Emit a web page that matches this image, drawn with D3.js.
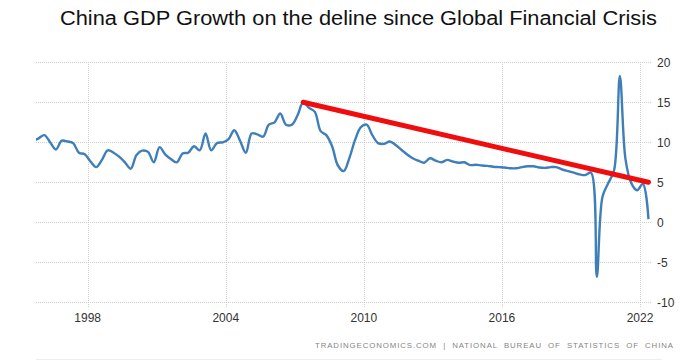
<!DOCTYPE html>
<html>
<head>
<meta charset="utf-8">
<script src="https://cdn.jsdelivr.net/npm/d3@7"></script>
<style>
  body { margin: 0; background: #fff; }
  svg { display: block; font-family: Arial, "Liberation Sans", sans-serif; }
  .grid line { stroke: #cfcfcf; stroke-dasharray: 1,1; }
  .tick-label { fill: #333; font-size: 12px; }
</style>
</head>
<body>
<svg width="697" height="361"></svg>
<script>
// quarterly GDP growth, year on year (%)
const quarters = [
  '1995Q3', '1995Q4',
  '1996Q1', '1996Q2', '1996Q3', '1996Q4',
  '1997Q1', '1997Q2', '1997Q3', '1997Q4',
  '1998Q1', '1998Q2', '1998Q3', '1998Q4',
  '1999Q1', '1999Q2', '1999Q3', '1999Q4',
  '2000Q1', '2000Q2', '2000Q3', '2000Q4',
  '2001Q1', '2001Q2', '2001Q3', '2001Q4',
  '2002Q1', '2002Q2', '2002Q3', '2002Q4',
  '2003Q1', '2003Q2', '2003Q3', '2003Q4',
  '2004Q1', '2004Q2', '2004Q3', '2004Q4',
  '2005Q1', '2005Q2', '2005Q3', '2005Q4',
  '2006Q1', '2006Q2', '2006Q3', '2006Q4',
  '2007Q1', '2007Q2', '2007Q3', '2007Q4',
  '2008Q1', '2008Q2', '2008Q3', '2008Q4',
  '2009Q1', '2009Q2', '2009Q3', '2009Q4',
  '2010Q1', '2010Q2', '2010Q3', '2010Q4',
  '2011Q1', '2011Q2', '2011Q3', '2011Q4',
  '2012Q1', '2012Q2', '2012Q3', '2012Q4',
  '2013Q1', '2013Q2', '2013Q3', '2013Q4',
  '2014Q1', '2014Q2', '2014Q3', '2014Q4',
  '2015Q1', '2015Q2', '2015Q3', '2015Q4',
  '2016Q1', '2016Q2', '2016Q3', '2016Q4',
  '2017Q1', '2017Q2', '2017Q3', '2017Q4',
  '2018Q1', '2018Q2', '2018Q3', '2018Q4',
  '2019Q1', '2019Q2', '2019Q3', '2019Q4',
  '2020Q1', '2020Q2', '2020Q3', '2020Q4',
  '2021Q1', '2021Q2', '2021Q3', '2021Q4',
  '2022Q1', '2022Q2'
];

const growth = [
  10.2, 10.5,
  10.9, 10.0, 9.1, 10.2,
  10.1, 9.9, 8.7, 8.5,
  7.6, 6.9, 7.8, 9.0,
  8.7, 8.2, 7.5, 6.7,
  8.4, 8.95, 8.8, 7.5,
  9.4, 8.5, 7.9, 7.5,
  8.6, 8.7, 9.5, 9.0,
  11.1, 9.0, 9.9, 10.0,
  10.4, 11.5, 10.2, 8.7,
  11.1, 11.0, 10.7, 12.2,
  12.5, 13.6, 12.2, 12.2,
  13.4, 15.0, 14.3, 13.8,
  11.4, 10.9, 9.5, 7.1,
  6.4, 8.0, 10.3, 11.9,
  12.2, 10.9, 9.9, 9.8,
  10.1, 9.7, 9.1, 8.5,
  8.0, 7.7, 7.45, 8.0,
  7.7, 7.5, 7.8, 7.6,
  7.45, 7.5, 7.15, 7.2,
  7.1, 7.05, 6.95, 6.9,
  6.85, 6.75, 6.75, 6.9,
  7.0, 7.0, 6.85, 6.8,
  6.9, 6.9, 6.6, 6.4,
  6.2, 6.0, 5.9, 6.2,
  -6.8, 3.2, 4.9, 6.5,
  18.3, 7.9, 4.9, 4.0,
  4.8, 0.4
];

// hand drawn trend line
const trendQuarters = ['2007Q2', '2022Q2'];
const trendValues = [15, 5];

const yearTicks = [1998, 2004, 2010, 2016, 2022];
const valueTicks = [-10, -5, 0, 5, 10, 15, 20];

const titleText = 'China GDP Growth on the deline since Global Financial Crisis';
const sourceText = 'TRADINGECONOMICS.COM  |  NATIONAL  BUREAU  OF  STATISTICS  OF  CHINA';

// mid-quarter date
const parseQuarter = s => new Date(+s.slice(0, 4), (+s.slice(5) - 1) * 3 + 1, 15);

const svg = d3.select('svg');

const plot = { left: 36, right: 651, top: 62, bottom: 302.3 };

const x = d3.scaleTime()
  .domain([new Date(1995, 9, 4), new Date(2022, 5, 24)])
  .range([plot.left, plot.right]);

const y = d3.scaleLinear()
  .domain([-10, 20])
  .range([plot.bottom, plot.bottom - 240]);

// title
svg.append('text')
  .attr('x', 60)
  .attr('y', 25)
  .attr('font-size', 19.5)
  .attr('fill', '#111')
  .attr('textLength', 597)
  .attr('lengthAdjust', 'spacingAndGlyphs')
  .text(titleText);

// grid
const grid = svg.append('g').attr('class', 'grid');

grid.selectAll('.hgrid').data(valueTicks)
  .enter().append('line')
  .attr('x1', plot.left)
  .attr('x2', plot.right)
  .attr('y1', d => Math.round(y(d)) + 0.5)
  .attr('y2', d => Math.round(y(d)) + 0.5);

grid.selectAll('.vgrid').data(yearTicks)
  .enter().append('line')
  .attr('x1', d => Math.round(x(new Date(d, 0, 1))) + 0.5)
  .attr('x2', d => Math.round(x(new Date(d, 0, 1))) + 0.5)
  .attr('y1', plot.top)
  .attr('y2', plot.bottom + 5);

// axis labels
svg.selectAll('.ylab').data(valueTicks)
  .enter().append('text')
  .attr('class', 'tick-label')
  .attr('x', 657)
  .attr('y', d => y(d) + 4.5)
  .text(d => d);

svg.selectAll('.xlab').data(yearTicks)
  .enter().append('text')
  .attr('class', 'tick-label')
  .attr('x', d => x(new Date(d, 0, 1)))
  .attr('y', 322)
  .attr('text-anchor', 'middle')
  .text(d => d);

// series
svg.append('clipPath').attr('id', 'plot-clip')
  .append('rect')
  .attr('x', plot.left).attr('y', 0)
  .attr('width', plot.right - plot.left + 2).attr('height', 361);

const series = quarters.map((q, i) => ({ date: parseQuarter(q), value: growth[i] }));

const line = d3.line()
  .x(d => x(d.date))
  .y(d => y(d.value))
  .curve(d3.curveCatmullRom.alpha(0.5));

svg.append('path')
  .datum(series)
  .attr('clip-path', 'url(#plot-clip)')
  .attr('fill', 'none')
  .attr('stroke', '#3f7fb9')
  .attr('stroke-width', 2.4)
  .attr('stroke-linejoin', 'round')
  .attr('d', line);

const trend = trendQuarters.map((q, i) => ({ date: parseQuarter(q), value: trendValues[i] }));

svg.append('path')
  .datum(trend)
  .attr('fill', 'none')
  .attr('stroke', '#f00d0d')
  .attr('stroke-width', 5)
  .attr('stroke-linecap', 'round')
  .attr('d', d3.line().x(d => x(d.date)).y(d => y(d.value)));

// source
svg.append('text')
  .attr('x', 315)
  .attr('y', 348)
  .attr('font-size', 7.8)
  .attr('fill', '#858585')
  .attr('textLength', 358)
  .attr('lengthAdjust', 'spacing')
  .style('white-space', 'pre')
  .text(sourceText);

svg.append('line')
  .attr('x1', plot.left).attr('x2', 662)
  .attr('y1', 359.5).attr('y2', 359.5)
  .attr('stroke', '#eeeeee');
</script>
</body>
</html>
